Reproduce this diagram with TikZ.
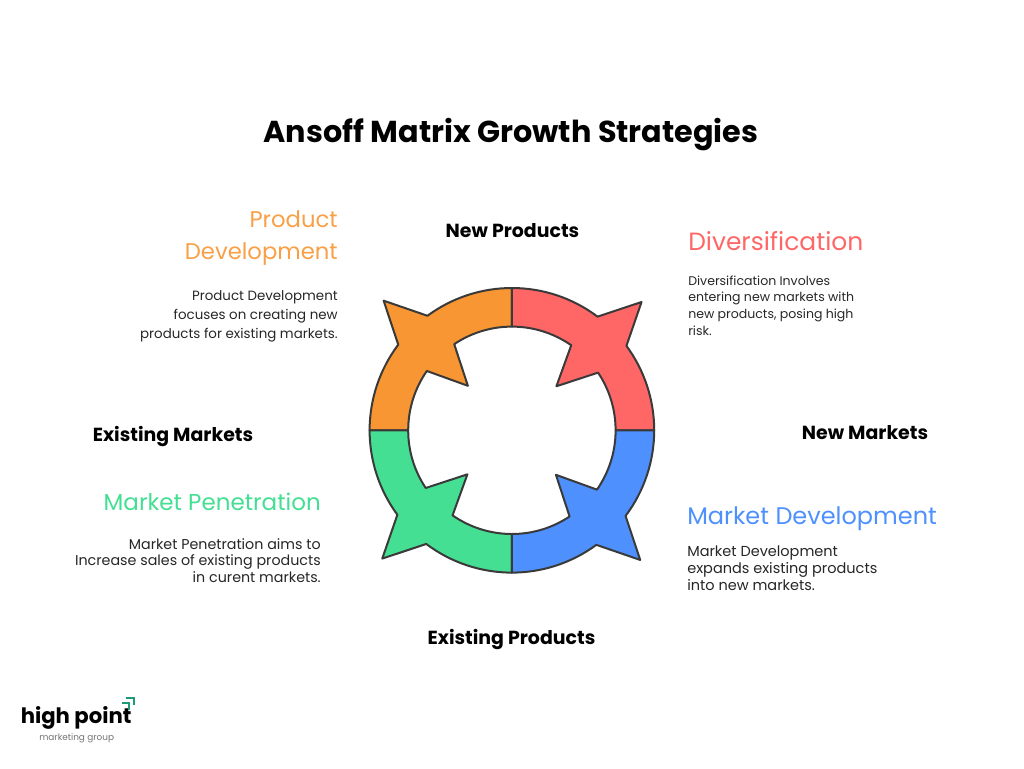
\documentclass[tikz,border=0pt]{standalone}
\usepackage{fontspec}
\setmainfont{Poppins}
\definecolor{ansorange}{HTML}{F79633}
\definecolor{ansred}{HTML}{FF6666}
\definecolor{ansgreen}{HTML}{44DF93}
\definecolor{ansblue}{HTML}{4D90FE}
\definecolor{ansline}{HTML}{3A3A3A}
\definecolor{logoteal}{HTML}{1F9A78}
\tikzset{
	segment/.style={draw=ansline,line width=1.5pt,line join=round},
	heading/.style={font=\fontsize{#1}{24}\selectfont,inner sep=0pt},
	axislabel/.style={font=\fontsize{14.2}{18}\selectfont\bfseries,text=black,inner sep=0pt},
	bodytext/.style 2 args={font=\fontsize{#1}{#2}\selectfont,text=black!85,inner sep=0pt},
}
\begin{document}
\begin{tikzpicture}[x=0.75pt,y=0.75pt]
	\useasboundingbox (0,0) rectangle (1024,-768);
	\node[font=\fontsize{22.7}{30}\selectfont\bfseries,inner sep=0pt](title)at(511,-134.5){Ansoff Matrix Growth Strategies};
	% ring
	\begin{scope}[shift={(511.9,-430.3)}]
		\foreach \rot/\col in {0/ansorange,-90/ansred,90/ansgreen,180/ansblue}{
			\filldraw[segment,fill=\col,rotate=\rot](90:142.3)arc[start angle=90,end angle=126.4,radius=142.3]
				--(134.7:182.4)--(143:142.3)arc[start angle=143,end angle=180,radius=142.3]
				--(180:103.7)arc[start angle=180,end angle=145.1,radius=103.7]
				--(134.7:62.6)--(123.8:103.7)arc[start angle=123.8,end angle=90,radius=103.7]--cycle;
		}
	\end{scope}
	% axis labels
	\node[axislabel](newproducts)at(512.5,-230.5){New Products};
	\node[axislabel](existingproducts)at(511.5,-640){Existing Products};
	\node[axislabel](existingmarkets)at(173,-437){Existing Markets};
	\node[axislabel](newmarkets)at(865,-433){New Markets};
	% quadrant texts
	\node[heading=17.05,text=ansorange!90!white,anchor=east,align=right](devhead)at(338,-238){Product\\Development};
	\node[bodytext={10.05}{14.2},anchor=east,align=right](devbody)at(338,-316){Product Development\\focuses on creating new\\products for existing markets.};
	\node[heading=18.7,text=ansred,anchor=west](divhead)at(688,-241){Diversification};
	\node[bodytext={9.4}{12.4},anchor=west,align=left](divbody)at(688,-305.5){Diversification Involves\\entering new markets with\\new products, posing high\\risk.};
	\node[heading=17.25,text=ansgreen,anchor=east](penhead)at(321,-502){Market Penetration};
	\node[bodytext={10.7}{12.4},anchor=east,align=right](penbody)at(321,-560.5){Market Penetration aims to\\Increase sales of existing products\\in curent markets.};
	\node[heading=18,text=ansblue,anchor=west](mkthead)at(687,-519){Market Development};
	\node[bodytext={10.87}{12.8},anchor=west,align=left](mktbody)at(687,-568.5){Market Development\\expands existing products\\into new markets.};
	% logo
	\node[font=\fontsize{15.9}{20}\selectfont\bfseries,inner sep=0pt,anchor=west](logoname)at(20.5,-718){high point};
	\node[font=\fontsize{6.67}{9}\selectfont,text=black!55,inner sep=0pt,anchor=west](logosub)at(39,-738){marketing group};
	\coordinate(outerstart)at(126,-698.3);
	\coordinate(outerbend)at(134,-698.3);
	\coordinate(outerend)at(134,-705);
	\coordinate(innerstart)at(121.7,-702.7);
	\coordinate(innerbend)at(129.3,-702.7);
	\coordinate(innerend)at(129.3,-710);
	\draw[logoteal,line width=1.5pt](outerstart)--(outerbend)--(outerend);
	\draw[logoteal,line width=1.5pt](innerstart)--(innerbend)--(innerend);
\end{tikzpicture}
\end{document}
